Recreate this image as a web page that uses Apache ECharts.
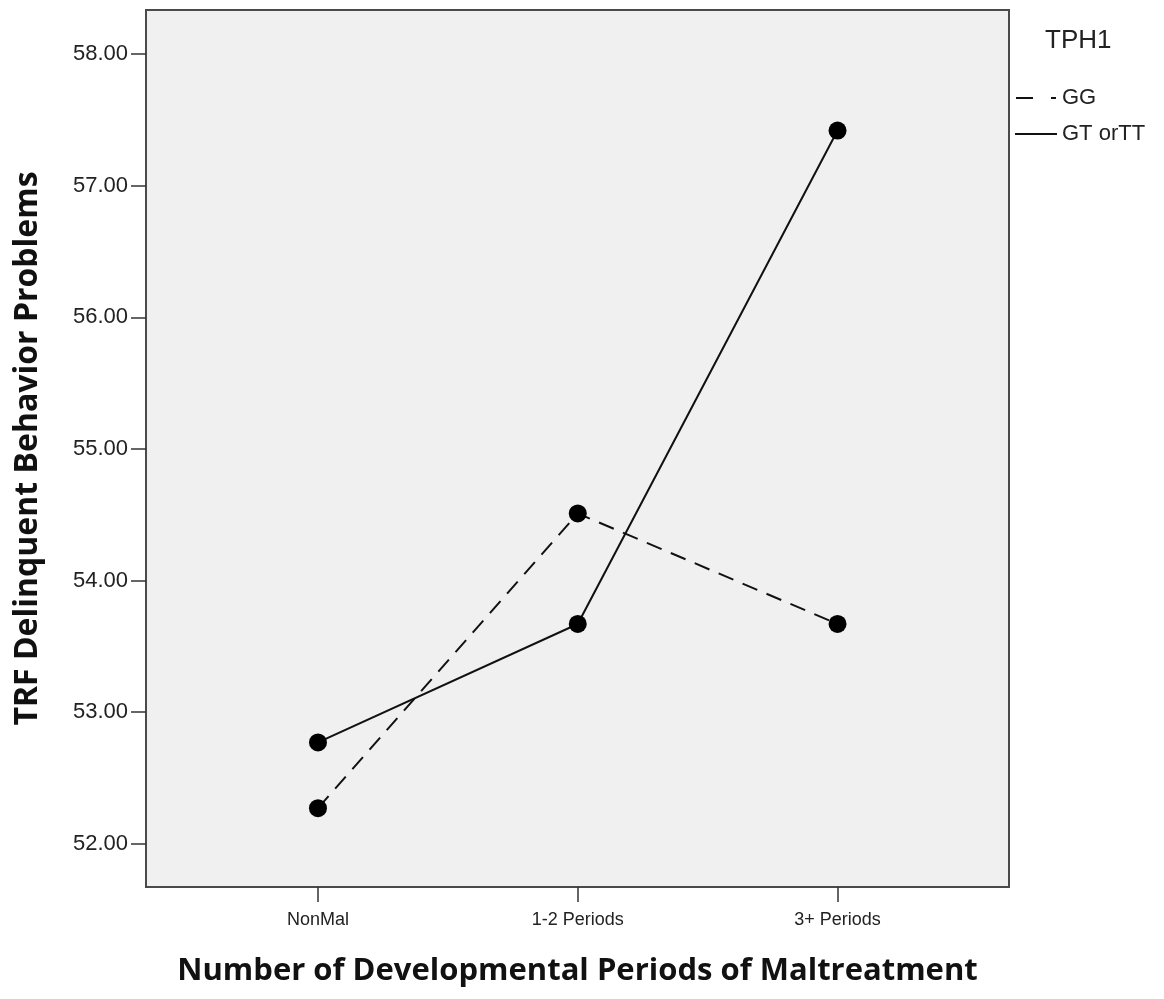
<!DOCTYPE html>
<html>
<head>
<meta charset="utf-8">
<script src="https://cdn.jsdelivr.net/npm/echarts@6/dist/echarts.min.js"></script>
<style>
html,body{margin:0;padding:0;background:#fff;}
#chart{width:1164px;height:999px;}
</style>
</head>
<body>
<div id="chart"></div>
<script>
// ---- data ----
var categories = ['NonMal', '1-2 Periods', '3+ Periods'];
var seriesNames = ['GG', 'GT orTT'];
var ggValues = [52.27, 54.51, 53.67];
var gtValues = [52.77, 53.67, 57.42];
var yTicks = [52, 53, 54, 55, 56, 57, 58];
var legendTitle = 'TPH1';
var xTitle = 'Number of Developmental Periods of Maltreatment';
var yTitle = 'TRF Delinquent Behavior Problems';

function toPoints(vals) {
  return vals.map(function (v, i) { return [i, v]; });
}
var catIdx = categories.map(function (c, i) { return i; });

var tickFont = '"Liberation Sans", Arial, sans-serif';
var titleFont = '"Open Sans", "DejaVu Sans", sans-serif';
var chart = echarts.init(document.getElementById('chart'), null, {renderer: 'canvas'});
chart.setOption({
  animation: false,
  backgroundColor: '#ffffff',
  title: {
    text: legendTitle,
    left: 1045,
    top: 28,
    padding: 0,
    textStyle: {fontFamily: '"Liberation Sans", Arial, sans-serif', fontSize: 26, fontWeight: 'normal', color: '#222'}
  },
  legend: {
    orient: 'vertical',
    left: 1015,
    top: 87,
    padding: 0,
    itemWidth: 42,
    itemHeight: 2,
    itemGap: 14,
    itemTextGap: 5,
    textStyle: {fontFamily: '"Liberation Sans", Arial, sans-serif', fontSize: 22, color: '#222'},
    data: [
      {name: seriesNames[0], icon: 'path://M0 0H17V2H0Z M35 0H40V2H35Z', itemStyle: {color: '#111'}},
      {name: seriesNames[1], icon: 'path://M0 0H42V2H0Z', itemStyle: {color: '#111'}}
    ]
  },
  grid: {
    left: 146, top: 10, right: 155, bottom: 112,
    show: true, backgroundColor: '#f0f0f0', borderColor: '#4a4a4a', borderWidth: 2
  },
  xAxis: {
    type: 'value',
    min: -0.662, max: 2.66,
    splitLine: {show: false},
    axisLine: {show: true, onZero: false, lineStyle: {color: '#4a4a4a', width: 2}},
    axisTick: {show: true, length: 15, customValues: catIdx, lineStyle: {color: '#333', width: 1.5}},
    axisLabel: {
      customValues: catIdx, margin: 24,
      fontFamily: tickFont, fontSize: 18, color: '#222',
      formatter: function (v) { return categories[Math.round(v)]; }
    },
    name: xTitle, nameLocation: 'middle', nameGap: 69,
    nameTextStyle: {fontFamily: titleFont, fontWeight: 'bold', fontSize: 31, color: '#111'}
  },
  yAxis: {
    type: 'value',
    min: 51.671, max: 58.336,
    splitLine: {show: false},
    axisLine: {show: true, onZero: false, lineStyle: {color: '#4a4a4a', width: 2}},
    axisTick: {show: true, length: 15, customValues: yTicks, lineStyle: {color: '#333', width: 1.5}},
    axisLabel: {
      customValues: yTicks, margin: 18,
      fontFamily: tickFont, fontSize: 22, color: '#222',
      formatter: function (v) { return v.toFixed(2); }
    },
    name: yTitle, nameLocation: 'middle', nameGap: 102,
    nameTextStyle: {fontFamily: titleFont, fontWeight: 'bold', fontSize: 32, color: '#111'}
  },
  series: [
    {
      name: seriesNames[0], type: 'line', data: toPoints(ggValues),
      symbol: 'circle', symbolSize: 18,
      itemStyle: {color: '#000'},
      lineStyle: {color: '#111', width: 2, type: [16, 10]}
    },
    {
      name: seriesNames[1], type: 'line', data: toPoints(gtValues),
      symbol: 'circle', symbolSize: 18,
      itemStyle: {color: '#000'},
      lineStyle: {color: '#111', width: 2, type: 'solid'}
    }
  ]
});
</script>
</body>
</html>
